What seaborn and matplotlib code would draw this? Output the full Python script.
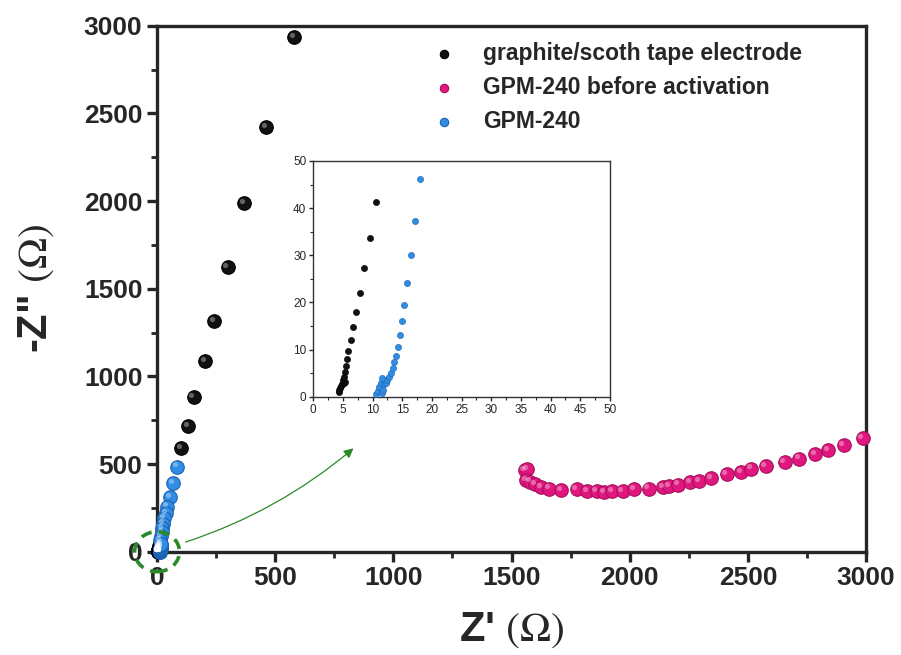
import numpy as np
import pandas as pd
import matplotlib
matplotlib.use("Agg")
import matplotlib.pyplot as plt
import matplotlib.transforms as mtransforms
from matplotlib.patches import Ellipse
from matplotlib.ticker import MultipleLocator
import seaborn as sns

# --- data (Nyquist plot) ---
graphite_x = [581, 460, 367, 299, 243, 205, 155, 130, 103]
graphite_y = [2933, 2423, 1990, 1623, 1315, 1087, 880, 718, 590]

gpm_x = [86, 68, 55, 44, 37, 31, 27, 23, 20, 17, 14]
gpm_y = [485, 393, 310, 257, 222, 190, 160, 135, 110, 88, 66]

before_x = [1555, 1565, 1560, 1580, 1600, 1625, 1660, 1710, 1775, 1820, 1860, 1890,
            1925, 1970, 2020, 2080, 2140, 2165, 2205, 2255, 2295, 2345, 2410, 2470,
            2515, 2575, 2655, 2715, 2785, 2840, 2905, 2985]
before_y = [465, 470, 410, 400, 385, 370, 360, 352, 355, 347, 344, 342,
            344, 347, 355, 360, 369, 373, 383, 396, 404, 421, 442, 455,
            474, 489, 512, 531, 556, 578, 606, 647]

# inset (high frequency region)
graphite_in_x = [4.3, 4.4, 4.5, 4.65, 4.8, 4.95, 5.1, 5.3, 5.0, 5.15, 5.3, 5.5, 5.67,
                 5.9, 6.29, 6.69, 7.25, 7.81, 8.6, 9.55, 10.62]
graphite_in_y = [1.0, 1.4, 1.8, 2.2, 2.6, 2.9, 2.8, 3.1, 3.5, 4.2, 5.3, 6.5, 8.0,
                 9.7, 12.0, 14.7, 18.0, 22.1, 27.3, 33.7, 41.4]
gpm_in_x = [10.56, 10.84, 11.1, 11.35, 11.5, 11.63, 11.8, 11.9, 12.25, 12.5, 12.8,
            13.1, 13.37, 13.65, 13.93, 14.21, 14.55, 14.89, 15.28, 15.79, 16.4,
            17.08, 18.03]
gpm_in_y = [0.5, 1.3, 2.0, 2.8, 0.7, 3.9, 1.4, 2.6, 3.0, 3.5, 4.2,
            5.0, 6.0, 7.3, 8.7, 10.6, 13.0, 16.1, 19.5, 24.2, 30.1,
            37.3, 46.2]

labels = ["graphite/scoth tape electrode", "GPM-240 before activation", "GPM-240"]
colors = ["#111111", "#e0177f", "#2f8de4"]
edges = ["#000000", "#a80f5c", "#1c63b0"]

sns.set_style("ticks")
plt.rcParams["font.family"] = ["Liberation Sans", "DejaVu Sans"]
plt.rcParams["mathtext.fontset"] = "stix"

fig = plt.figure(figsize=(9.01, 6.55), dpi=100)
ax = fig.add_axes([0.1743, 0.1577, 0.787, 0.803])

main = [
    (np.r_[graphite_x, graphite_in_x], np.r_[graphite_y, graphite_in_y]),
    (np.array(before_x), np.array(before_y)),
    (np.r_[gpm_x, gpm_in_x], np.r_[gpm_y, gpm_in_y]),
]
hl = mtransforms.offset_copy(ax.transData, fig=fig, x=-1.6, y=1.6, units="points")
for (xs, ys), lab, c, ec in zip(main, labels, colors, edges):
    df = pd.DataFrame({"x": xs, "y": ys})
    sns.scatterplot(data=df, x="x", y="y", ax=ax, color=c, s=95, edgecolor=ec,
                    linewidth=0.8, label=lab, clip_on=False, zorder=3)
    ax.scatter(df["x"], df["y"], s=14, color="white", alpha=0.35, linewidth=0,
               transform=hl, clip_on=False, zorder=4)

ax.set_xlim(0, 3000)
ax.set_ylim(0, 3000)
ax.xaxis.set_major_locator(MultipleLocator(500))
ax.yaxis.set_major_locator(MultipleLocator(500))
ax.xaxis.set_minor_locator(MultipleLocator(250))
ax.yaxis.set_minor_locator(MultipleLocator(250))
for sp in ax.spines.values():
    sp.set_linewidth(2.4)
ax.tick_params(which="major", direction="out", length=7, width=2.4, labelsize=19,
               top=False, right=False)
ax.tick_params(which="minor", direction="out", length=4, width=2.0, top=False, right=False)
for t in ax.get_xticklabels() + ax.get_yticklabels():
    t.set_fontweight("bold")
ax.set_xlabel(r"Z' $(\Omega)$", fontsize=30, fontweight="bold", labelpad=14)
ax.set_ylabel(r'-Z" $(\Omega)$', fontsize=30, fontweight="bold", labelpad=20)

leg = ax.legend(loc="upper left", bbox_to_anchor=(0.35, 1.0), frameon=False,
                prop={"weight": "bold", "size": 16.5}, markerscale=0.62,
                handletextpad=0.7, labelspacing=0.48, borderaxespad=0.3)

# green dashed circle round the origin and the arrow to the inset
circ = Ellipse((0, 0), width=190, height=228, fill=False, edgecolor="#2a8a2a",
               linestyle=(0, (3, 2)), linewidth=2.6, clip_on=False, zorder=5)
ax.add_patch(circ)
ax.annotate("", xy=(840, 600), xytext=(110, 50),
            arrowprops=dict(arrowstyle="-|>", color="#2a8a2a", lw=0.9,
                            mutation_scale=14, connectionstyle="arc3,rad=0.1"))

# --- inset ---
ins = fig.add_axes([0.3477, 0.3944, 0.3293, 0.3598])
inset = [(graphite_in_x, graphite_in_y, colors[0], edges[0]),
         (gpm_in_x, gpm_in_y, colors[2], edges[2])]
for xs, ys, c, ec in inset:
    sns.scatterplot(x=xs, y=ys, ax=ins, color=c, s=20, edgecolor=ec, linewidth=0.4,
                    legend=False, clip_on=False, zorder=3)
ins.set_xlim(0, 50)
ins.set_ylim(0, 50)
ins.xaxis.set_major_locator(MultipleLocator(5))
ins.yaxis.set_major_locator(MultipleLocator(10))
ins.xaxis.set_minor_locator(MultipleLocator(2.5))
ins.yaxis.set_minor_locator(MultipleLocator(5))
for sp in ins.spines.values():
    sp.set_linewidth(1.0)
    sp.set_color("#333333")
ins.tick_params(which="major", direction="out", length=3, width=1.0, labelsize=8.5,
                top=False, right=False, pad=2)
ins.tick_params(which="minor", direction="out", length=2, width=0.8, top=False, right=False)
ins.set_xlabel("")
ins.set_ylabel("")

fig.savefig("out.png", dpi=100)
